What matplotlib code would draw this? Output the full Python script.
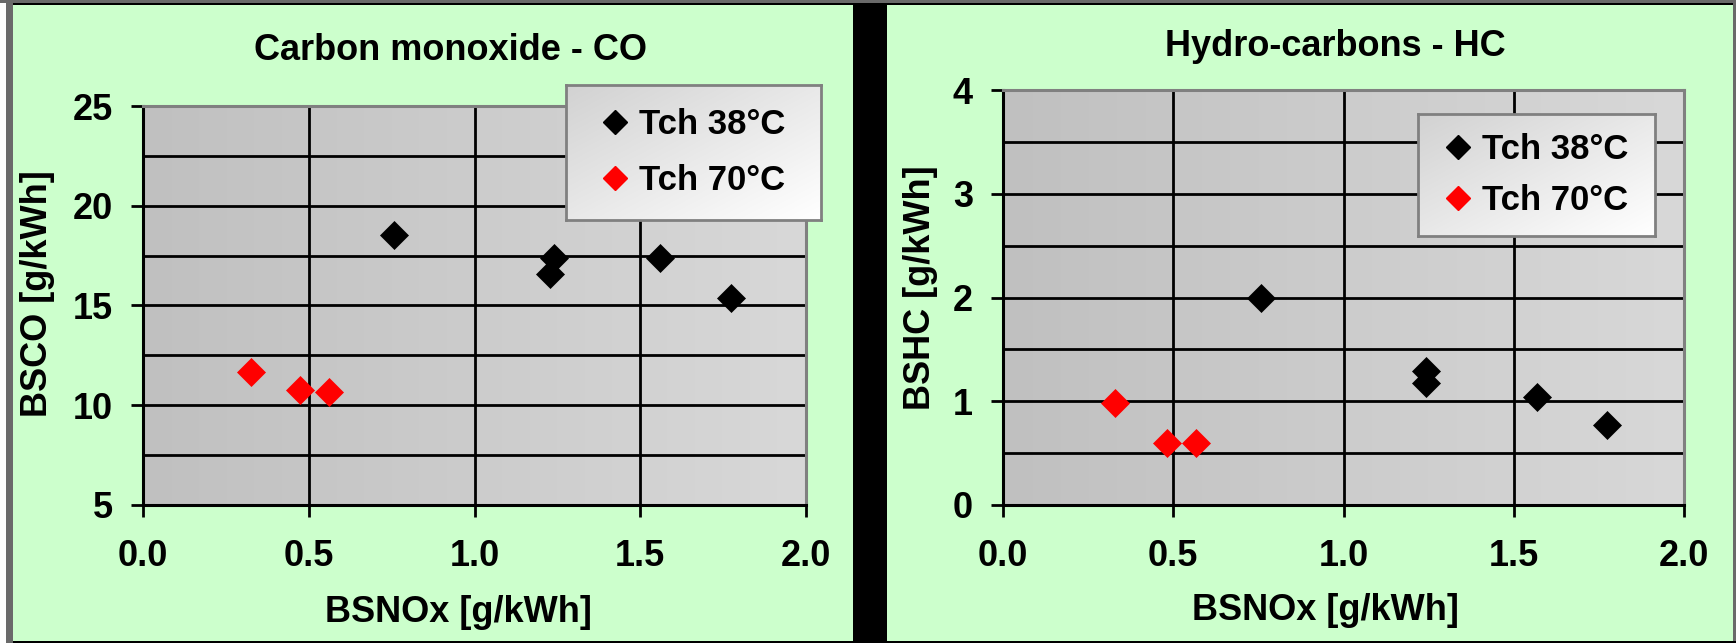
import numpy as np
import matplotlib
matplotlib.use("Agg")
import matplotlib.pyplot as plt
from matplotlib.patches import Rectangle
from matplotlib.lines import Line2D
from matplotlib.colors import LinearSegmentedColormap

# values
nox_co_38 = [0.758, 1.228, 1.240, 1.559, 1.775]
co_38 = [18.52, 16.57, 17.39, 17.39, 15.36]
nox_co_70 = [0.326, 0.473, 0.560]
co_70 = [11.65, 10.78, 10.64]

nox_hc_38 = [0.758, 1.242, 1.242, 1.568, 1.773]
hc_38 = [2.00, 1.295, 1.176, 1.04, 0.77]
nox_hc_70 = [0.329, 0.481, 0.567]
hc_70 = [0.98, 0.594, 0.594]

series_labels = ['Tch 38°C', 'Tch 70°C']
series_colors = ['black', 'red']
x_ticks = [0.0, 0.5, 1.0, 1.5, 2.0]
co_ticks = [5, 10, 15, 20, 25]
hc_ticks = [0, 1, 2, 3, 4]

W, H = 1736, 643

plt.rcParams['font.family'] = ['Liberation Sans', 'DejaVu Sans']
plt.rcParams['font.weight'] = 'bold'
plt.rcParams['axes.titleweight'] = 'bold'
plt.rcParams['axes.labelweight'] = 'bold'

fig = plt.figure(figsize=(W / 100, H / 100), dpi=100, facecolor='#CCFFCC')

# plot area and legend fills (Excel style gradients)
area_cmap = LinearSegmentedColormap.from_list('area', ['#C0C0C0', '#D8D8D8'])
legend_cmap = LinearSegmentedColormap.from_list('leg', ['#D2D2D2', '#FFFFFF'])


def fig_rect(x0, y0, x1, y1, color):
    # rectangle in pixel coords (top-down)
    fig.add_artist(Rectangle((x0 / W, 1 - y1 / H), (x1 - x0) / W, (y1 - y0) / H,
                             transform=fig.transFigure, color=color, lw=0))


def make_panel(box, xs, ys, title, title_xy, ylabel, ylabel_xy, xlabel_xy,
               yticks, half_step, legend_box, spacing):
    x0, y0, x1, y1 = box
    ax = fig.add_axes([x0 / W, 1 - y1 / H, (x1 - x0) / W, (y1 - y0) / H])
    ymin, ymax = yticks[0], yticks[-1]

    grad = np.linspace(0, 1, 256).reshape(1, -1)
    ax.imshow(grad, extent=(0, 2, ymin, ymax), aspect='auto', cmap=area_cmap,
              interpolation='bicubic', zorder=0)

    for i in range(2):
        ax.plot(xs[i], ys[i], linestyle='none', marker='D', ms=14,
                color=series_colors[i], mec=series_colors[i], mew=0.5, zorder=3)

    ax.set_xlim(0, 2)
    ax.set_ylim(ymin, ymax)
    ax.set_xticks(x_ticks)
    ax.set_xticklabels([f'{t:.1f}' for t in x_ticks])
    ax.set_yticks(yticks)
    # extra horizontal lines halfway between the labelled ones
    ax.set_yticks(np.arange(ymin + half_step, ymax, 2 * half_step), minor=True)
    ax.tick_params(which='major', direction='out', length=8.6, width=2,
                   color='black', labelsize=26)
    ax.tick_params(axis='x', pad=16)
    ax.tick_params(axis='y', pad=13)
    ax.tick_params(which='minor', length=0)
    ax.set_axisbelow(True)
    ax.grid(which='both', axis='y', color='black', lw=2)
    ax.grid(which='major', axis='x', color='black', lw=2)

    for side in ['left', 'bottom']:
        ax.spines[side].set_color('black')
        ax.spines[side].set_linewidth(2.2)
    for side in ['top', 'right']:
        ax.spines[side].set_color('#808080')
        ax.spines[side].set_linewidth(2.2)

    ax.set_title(title, fontsize=26, x=(title_xy[0] - x0) / (x1 - x0),
                 y=(y1 - title_xy[1]) / (y1 - y0), va='center', pad=0)
    ax.set_xlabel('BSNOx [g/kWh]', fontsize=26, va='center')
    ax.xaxis.set_label_coords(xlabel_xy[0] / W, 1 - xlabel_xy[1] / H,
                              transform=fig.transFigure)
    ax.set_ylabel(ylabel, fontsize=26, va='center')
    ax.yaxis.set_label_coords(ylabel_xy[0] / W, 1 - ylabel_xy[1] / H,
                              transform=fig.transFigure)

    # legend box with gradient fill
    lx0, ly0, lx1, ly1 = legend_box
    bx = [(lx0 - x0) / (x1 - x0), (y1 - ly1) / (y1 - y0),
          (lx1 - lx0) / (x1 - x0), (ly1 - ly0) / (y1 - y0)]
    lax = ax.inset_axes(bx)
    gx, gy = np.meshgrid(np.linspace(0, 1, 64), np.linspace(0, 1, 64))
    lax.imshow((gx + gy) / 2, cmap=legend_cmap, aspect='auto',
               interpolation='bicubic', extent=(0, 1, 0, 1))
    lax.set_xticks([])
    lax.set_yticks([])
    for sp in lax.spines.values():
        sp.set_color('#808080')
        sp.set_linewidth(2)

    handles = [Line2D([], [], linestyle='none', marker='D', ms=14,
                      color=c, mec=c) for c in series_colors]
    leg = ax.legend(handles, series_labels, loc='center',
                    bbox_to_anchor=(bx[0] + bx[2] / 2, bx[1] + bx[3] / 2),
                    frameon=False, fontsize=25, handlelength=0.8,
                    handletextpad=0.3, labelspacing=spacing, markerscale=0.85,
                    borderpad=0)
    leg.set_zorder(6)
    return ax


make_panel((143, 106, 806, 505), [nox_co_38, nox_co_70], [co_38, co_70],
           'Carbon monoxide - CO', (450, 50), 'BSCO [g/kWh]', (38, 294), (458, 612),
           co_ticks, 2.5, (566, 85, 821, 220), 0.65)

make_panel((1003, 90, 1684, 505), [nox_hc_38, nox_hc_70], [hc_38, hc_70],
           'Hydro-carbons - HC', (1335, 46), 'BSHC [g/kWh]', (921, 288), (1325, 610),
           hc_ticks, 0.5, (1418, 114, 1655, 236), 0.5)

# outer frame and the black divider between the two charts
fig_rect(0, 0, 6, H, 'white')
fig_rect(6, 0, 13, H, '#6A6A6A')
fig_rect(0, 0, W, 3, '#6A6A6A')
fig_rect(13, 3, W, 4.5, 'black')
fig_rect(1733, 0, W, H, '#6A6A6A')
fig_rect(13, 641, W, H, 'black')
fig_rect(853, 3, 887, H, 'black')

fig.savefig('out.png', dpi=100, facecolor=fig.get_facecolor())
